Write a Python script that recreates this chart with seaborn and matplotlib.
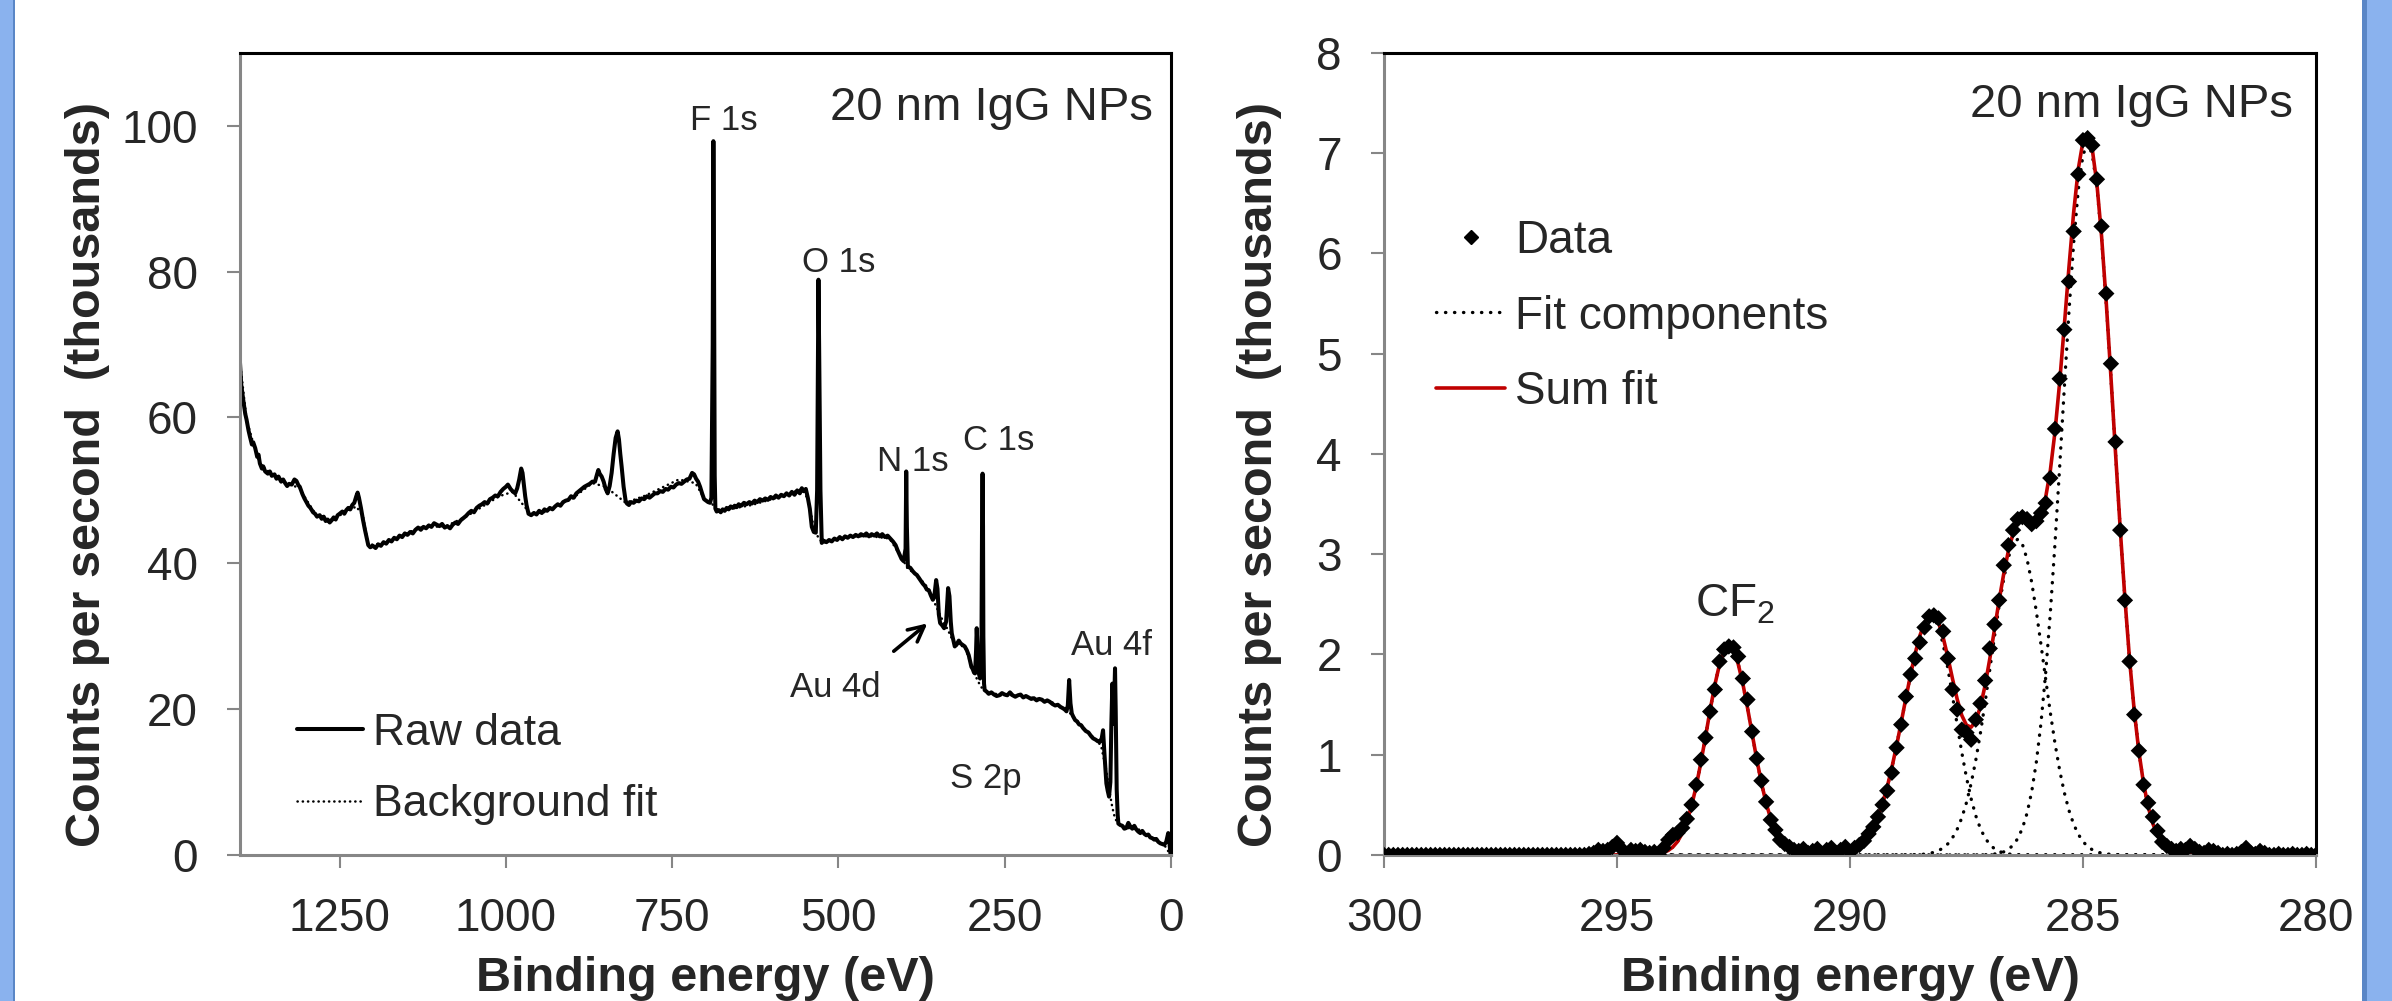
import numpy as np
import pandas as pd
import matplotlib
matplotlib.use("Agg")
import matplotlib.pyplot as plt
from matplotlib.lines import Line2D
from matplotlib.patches import Rectangle
import seaborn as sns

sns.set_style("ticks")
plt.rcParams["font.family"] = ["Liberation Sans", "DejaVu Sans"]
plt.rcParams["mathtext.default"] = "regular"

# ---- survey spectrum (left): (binding energy eV, counts/s in thousands)
survey = [
    (1400, 67.7), (1398, 64.5), (1395, 62.4), (1392, 60.5), (1390, 59.7), (1387, 58.2),
    (1385, 57.4), (1382, 56.3), (1380, 56.6), (1377, 55.8), (1374, 54.6), (1372, 54.9),
    (1370, 53.7), (1367, 53.0), (1365, 53.3), (1362, 52.6), (1358, 52.3), (1355, 52.6),
    (1352, 52.0), (1348, 52.2), (1345, 51.6), (1342, 51.9), (1338, 51.2), (1335, 51.5),
    (1332, 51.0), (1329, 50.6), (1326, 50.9), (1322, 50.8), (1318, 51.5), (1315, 51.3),
    (1312, 50.7), (1310, 50.5), (1306, 49.5), (1303, 48.9), (1300, 48.4), (1297, 47.9),
    (1294, 47.6), (1290, 47.0), (1287, 46.8), (1284, 46.4), (1280, 46.6), (1277, 46.1),
    (1274, 46.4), (1271, 45.8), (1268, 46.0), (1265, 45.6), (1262, 45.9), (1259, 46.3),
    (1256, 46.0), (1253, 46.6), (1250, 46.8), (1246, 47.1), (1243, 46.8), (1240, 47.3),
    (1237, 47.6), (1234, 47.4), (1231, 48.0), (1228, 48.3), (1225, 49.2), (1223, 49.7),
    (1221, 49.0), (1218, 47.6), (1215, 46.0), (1212, 44.6), (1209, 43.3), (1207, 42.5),
    (1204, 42.2), (1200, 42.4), (1196, 42.1), (1192, 42.6), (1188, 42.4), (1184, 42.9),
    (1180, 42.7), (1176, 43.2), (1172, 43.0), (1168, 43.5), (1164, 43.3), (1160, 43.8),
    (1156, 43.6), (1152, 44.1), (1148, 43.9), (1144, 44.3), (1140, 44.1), (1136, 44.6),
    (1132, 44.9), (1128, 44.6), (1124, 45.0), (1120, 44.8), (1116, 45.2), (1112, 45.0),
    (1108, 45.5), (1104, 45.3), (1100, 45.1), (1096, 45.4), (1092, 44.9), (1088, 45.1),
    (1084, 44.8), (1080, 45.3), (1076, 45.6), (1072, 45.4), (1068, 45.9), (1064, 46.2),
    (1060, 46.5), (1056, 46.9), (1052, 47.2), (1048, 47.0), (1044, 47.6), (1040, 47.9),
    (1036, 48.1), (1032, 48.4), (1028, 48.2), (1024, 48.8), (1020, 49.0), (1016, 49.3),
    (1012, 49.2), (1008, 49.8), (1004, 50.2), (1000, 50.5), (997, 50.8), (993, 50.2),
    (989, 49.8), (986, 49.6), (983, 50.3), (980, 51.5), (977, 53.0), (975, 52.4),
    (973, 50.8), (971, 49.2), (969, 48.0), (966, 46.8), (962, 46.6), (958, 46.9),
    (954, 46.7), (950, 47.2), (946, 46.9), (942, 47.4), (938, 47.2), (934, 47.6),
    (930, 47.4), (926, 47.8), (922, 48.1), (918, 47.9), (914, 48.4), (910, 48.6),
    (906, 48.7), (902, 49.2), (898, 49.0), (894, 49.6), (890, 49.9), (886, 50.2),
    (882, 50.5), (878, 50.7), (874, 50.9), (870, 51.2), (866, 51.2), (863, 52.2),
    (861, 52.8), (859, 52.3), (856, 51.9), (853, 51.2), (850, 50.2), (847, 49.6),
    (844, 50.6), (841, 52.4), (838, 55.0), (835, 57.2), (832, 58.1), (830, 57.0),
    (828, 55.0), (826, 53.3), (823, 50.5), (820, 48.6), (818, 48.2), (815, 48.0),
    (812, 48.4), (808, 48.3), (804, 48.6), (800, 48.5), (796, 48.9), (792, 48.8),
    (788, 49.2), (784, 49.0), (780, 49.3), (776, 49.6), (772, 49.6), (768, 49.9),
    (764, 49.8), (760, 50.2), (756, 50.1), (752, 50.5), (748, 50.4), (744, 50.8),
    (740, 51.0), (736, 50.9), (732, 51.2), (728, 51.5), (724, 51.6), (720, 52.4),
    (717, 52.2), (714, 51.6), (711, 51.2), (708, 50.5), (705, 49.6), (702, 48.8),
    (699, 48.6), (696, 48.4), (693, 48.3), (691, 49.0), (689, 70.0), (688, 97.9),
    (687, 80.0), (686, 52.0), (685, 47.5), (683, 47.1), (680, 47.3), (677, 47.0),
    (674, 47.4), (671, 47.2), (668, 47.6), (665, 47.4), (662, 47.8), (659, 47.6),
    (656, 47.9), (653, 47.7), (650, 48.1), (646, 47.9), (642, 48.3), (638, 48.1),
    (634, 48.4), (630, 48.2), (626, 48.6), (622, 48.4), (618, 48.8), (614, 48.6),
    (610, 48.9), (606, 48.7), (602, 49.1), (598, 48.9), (594, 49.3), (590, 49.0),
    (586, 49.4), (582, 49.2), (578, 49.6), (574, 49.3), (570, 49.8), (566, 49.4),
    (562, 50.0), (558, 49.6), (555, 50.3), (552, 49.9), (549, 50.2), (546, 49.0),
    (543, 47.5), (540, 45.0), (537, 44.3), (534, 44.2), (532, 50.0), (530, 78.9),
    (529, 70.0), (527, 50.0), (525, 42.8), (522, 43.1), (518, 42.9), (514, 43.2),
    (510, 43.0), (506, 43.4), (502, 43.2), (498, 43.6), (494, 43.3), (490, 43.7),
    (486, 43.5), (482, 43.8), (478, 43.6), (474, 43.9), (470, 43.7), (466, 44.0),
    (462, 43.8), (458, 44.1), (454, 43.7), (450, 44.0), (446, 43.8), (442, 44.1),
    (438, 43.7), (434, 44.0), (430, 43.6), (426, 43.8), (422, 43.4), (418, 43.0),
    (414, 42.5), (411, 41.8), (408, 41.2), (405, 40.6), (402, 40.3), (399, 42.0),
    (398, 52.6), (397, 45.0), (395.5, 39.5), (392, 39.4), (388, 38.9), (385, 38.6),
    (382, 38.4), (379, 38.0), (376, 37.6), (373, 37.2), (370, 36.9), (367, 36.4),
    (364, 36.3), (361, 35.6), (358, 35.0), (356, 35.3), (353, 37.7), (351, 36.5),
    (349, 33.0), (347, 31.8), (344, 31.5), (341, 31.1), (338, 32.0), (335, 36.6),
    (333, 35.5), (331, 32.0), (329.5, 30.4), (327, 29.4), (325, 28.6), (322, 28.9),
    (319, 29.4), (316, 29.0), (313, 28.8), (310, 28.6), (307, 28.1), (304, 27.4),
    (302, 26.6), (300, 25.8), (298, 25.5), (296, 25.0), (294.5, 24.9), (293, 28.0),
    (292, 31.1), (291, 29.0), (290, 25.5), (289, 25.0), (287, 24.2), (285, 26.0),
    (284, 45.0), (283.2, 52.3), (282.5, 45.0), (282, 30.0), (281, 23.5), (280, 22.6),
    (277, 22.4), (274, 22.1), (270, 22.3), (266, 22.0), (262, 21.8), (258, 21.9),
    (254, 22.2), (250, 22.0), (246, 21.9), (242, 22.3), (238, 21.9), (234, 21.7),
    (230, 21.9), (226, 22.0), (222, 21.6), (218, 21.8), (214, 21.6), (210, 21.4),
    (206, 21.5), (202, 21.2), (198, 21.4), (194, 21.3), (190, 21.0), (186, 21.2),
    (182, 21.0), (178, 20.7), (174, 20.5), (170, 20.6), (166, 20.3), (162, 20.1),
    (159, 19.9), (157, 19.7), (155, 20.5), (153, 24.0), (151, 20.8), (149, 19.4),
    (147, 19.0), (144, 18.5), (141, 18.3), (138, 17.9), (135, 17.8), (132, 17.4),
    (128, 17.0), (124, 16.8), (120, 16.3), (117, 16.0), (113, 15.8), (110, 15.6),
    (107, 15.5), (104, 16.0), (102, 17.1), (100, 14.0), (97, 9.8), (95, 8.8),
    (93, 8.0), (91, 10.0), (89.5, 18.0), (88, 23.5), (86.5, 18.0), (85, 22.0),
    (84, 25.6), (83, 20.0), (81.5, 9.0), (80, 5.5), (79, 4.3), (76, 4.1),
    (73, 4.0), (70, 3.6), (67, 3.7), (64, 4.4), (61, 3.9), (58, 3.6),
    (55, 4.0), (52, 3.5), (49, 3.2), (46, 3.0), (43, 3.3), (40, 2.9),
    (37, 2.7), (34, 2.8), (31, 2.4), (28, 2.3), (25, 2.1), (22, 2.2),
    (19, 1.8), (16, 1.6), (13, 1.5), (10, 1.4), (7, 1.8), (4, 3.0),
    (2, 1.5), (0.5, 0.0),
]

background = [
    (1400, 67.7), (1390, 59.7), (1380, 56.5), (1370, 53.7), (1350, 52.0), (1330, 51.0),
    (1310, 50.3), (1300, 48.7), (1285, 46.6), (1265, 45.9), (1245, 46.8), (1225, 47.8),
    (1215, 46.5), (1207, 42.5), (1180, 42.8), (1130, 44.9), (1090, 45.1), (1060, 46.4),
    (1010, 49.2), (990, 49.8), (965, 47.0), (945, 46.9), (900, 48.9), (870, 51.0),
    (850, 50.5), (820, 48.3), (790, 49.3), (740, 51.5), (715, 51.0), (700, 48.6),
    (690, 48.2), (683, 47.1), (630, 48.0), (585, 49.2), (555, 50.2), (545, 48.7),
    (537, 44.8), (530, 43.5), (524, 42.8), (485, 43.7), (450, 43.7), (423, 43.4),
    (410, 41.5), (400, 40.0), (396, 39.3), (382, 38.4), (365, 36.6), (355, 34.5),
    (345, 32.5), (335, 30.8), (325, 28.8), (310, 28.6), (300, 26.0), (295, 24.8),
    (290, 23.8), (285, 23.0), (280, 22.6), (257, 21.9), (230, 21.9), (205, 21.5),
    (180, 21.0), (160, 20.1), (150, 19.3), (140, 18.3), (130, 17.3), (115, 16.0),
    (105, 15.0), (97, 11.5), (92, 8.5), (88, 6.5), (84, 5.0), (79, 4.3),
    (67, 3.7), (50, 3.6), (30, 2.4), (10, 1.4), (0.5, 0.0),
]

survey_labels = [("F 1s", 673, 99.5), ("O 1s", 499, 80.0), ("N 1s", 388, 52.6),
                 ("C 1s", 259, 55.6), ("Au 4d", 504, 21.7), ("Au 4f", 90, 27.4),
                 ("S 2p", 278, 9.15)]

# ---- C 1s high resolution (right), energy grid 280.0 .. 300.0 in 0.1 eV steps
hr_start, hr_stop, hr_step = 280.0, 300.0, 0.1
hr_counts = [
    0.00, 0.00, 0.01, 0.00, 0.00, 0.01, 0.00, 0.00, 0.01, 0.00,   # 280
    0.00, 0.02, 0.04, 0.01, 0.02, 0.07, 0.03, 0.01, 0.00, 0.01,   # 281
    0.00, 0.02, 0.04, 0.05, 0.02, 0.03, 0.06, 0.09, 0.05, 0.06,   # 282
    0.04, 0.06, 0.09, 0.13, 0.24, 0.38, 0.52, 0.70, 1.04, 1.40,   # 283
    1.93, 2.54, 3.24, 4.12, 4.90, 5.60, 6.27, 6.74, 7.08, 7.15,   # 284
    7.13, 6.79, 6.22, 5.72, 5.24, 4.75, 4.25, 3.76, 3.51, 3.41,   # 285
    3.33, 3.30, 3.35, 3.37, 3.35, 3.24, 3.09, 2.89, 2.54, 2.30,   # 286
    2.06, 1.74, 1.51, 1.35, 1.15, 1.22, 1.25, 1.45, 1.65, 1.96,   # 287
    2.23, 2.36, 2.39, 2.38, 2.27, 2.12, 1.96, 1.80, 1.58, 1.30,   # 288
    1.07, 0.82, 0.64, 0.50, 0.38, 0.28, 0.21, 0.14, 0.10, 0.07,   # 289
    0.03, 0.08, 0.05, 0.02, 0.07, 0.05, 0.01, 0.06, 0.04, 0.02,   # 290
    0.06, 0.04, 0.05, 0.08, 0.11, 0.15, 0.25, 0.35, 0.53, 0.74,   # 291
    0.96, 1.23, 1.55, 1.76, 1.98, 2.07, 2.08, 2.05, 1.93, 1.65,   # 292
    1.43, 1.17, 0.95, 0.70, 0.50, 0.36, 0.27, 0.22, 0.20, 0.15,   # 293
    0.07, 0.00, 0.03, 0.02, 0.03, 0.05, 0.04, 0.05, 0.00, 0.06,   # 294
    0.12, 0.08, 0.05, 0.04, 0.05, 0.02, 0.01, 0.00, 0.00, 0.00,   # 295
    0.00, 0.00, 0.00, 0.00, 0.00, 0.00, 0.00, 0.00, 0.00, 0.00,   # 296
    0.00, 0.00, 0.00, 0.00, 0.00, 0.00, 0.00, 0.00, 0.00, 0.00,   # 297
    0.00, 0.00, 0.00, 0.00, 0.00, 0.00, 0.00, 0.00, 0.00, 0.00,   # 298
    0.00, 0.00, 0.00, 0.00, 0.00, 0.00, 0.00, 0.00, 0.00, 0.00,   # 299
    0.00,                                                         # 300
]

# fit components, each starting at the given energy (0.1 eV steps)
c1_start = 282.5
c1_vals = [0.001, 0.002, 0.003, 0.006, 0.012,
           0.022, 0.040, 0.071, 0.120, 0.197, 0.312, 0.480, 0.715, 1.032, 1.441,
           1.952, 2.560, 3.250, 3.999, 4.766, 5.501, 6.151, 6.661, 6.988, 7.100,
           6.982, 6.637, 6.100, 5.421, 4.658, 3.870, 3.109, 2.417, 1.816, 1.319,
           0.928, 0.631, 0.416, 0.265, 0.163, 0.097, 0.056, 0.031, 0.017, 0.009,
           0.005, 0.002, 0.001, 0.000]
c3_start = 284.1
c3_vals = [0.001, 0.002, 0.003, 0.006, 0.010, 0.018, 0.031, 0.052, 0.084,
           0.134, 0.206, 0.307, 0.444, 0.622, 0.845, 1.113, 1.419, 1.753, 2.096,
           2.427, 2.720, 2.951, 3.100, 3.150, 3.104, 2.968, 2.755, 2.484, 2.173,
           1.845, 1.521, 1.217, 0.945, 0.713, 0.522, 0.370, 0.255, 0.171, 0.111,
           0.070, 0.043, 0.026, 0.015, 0.008, 0.005, 0.002, 0.001]
c4_start = 286.3
c4_vals = [0.001, 0.003, 0.005, 0.010, 0.019, 0.036, 0.062,
           0.105, 0.169, 0.262, 0.391, 0.561, 0.773, 1.022, 1.300, 1.587, 1.863,
           2.100, 2.275, 2.368, 2.372, 2.307, 2.182, 2.008, 1.796, 1.564, 1.324,
           1.090, 0.873, 0.680, 0.515, 0.379, 0.272, 0.189, 0.128, 0.085, 0.054,
           0.034, 0.021, 0.012, 0.007, 0.004, 0.002, 0.001]
cf2_start = 290.7
cf2_vals = [0.001, 0.002, 0.004,
            0.008, 0.016, 0.030, 0.053, 0.091, 0.151, 0.238, 0.359, 0.519, 0.718,
            0.952, 1.209, 1.470, 1.711, 1.907, 2.035, 2.080, 2.033, 1.900, 1.697,
            1.448, 1.181, 0.921, 0.686, 0.489, 0.333, 0.216, 0.134, 0.080, 0.045,
            0.025, 0.013, 0.006, 0.003, 0.001]

n_pts = int(round((hr_stop - hr_start) / hr_step)) + 1
grid = np.round(hr_start + hr_step * np.arange(n_pts), 1)


def on_grid(start, vals):
    idx = np.round(start + hr_step * np.arange(len(vals)), 1)
    return pd.Series(vals, index=idx).reindex(grid, fill_value=0.0).to_numpy()


components = [on_grid(c1_start, c1_vals), on_grid(c3_start, c3_vals),
              on_grid(c4_start, c4_vals), on_grid(cf2_start, cf2_vals)]
sum_fit = np.sum(components, axis=0)

RED = "#C00000"
GREY = "#868686"
DOTS = (0, (0.1, 2.6))

fig = plt.figure(figsize=(23.92, 10.01), dpi=100)
ax1 = fig.add_axes([0.1003, 0.1459, 0.3892, 0.8012])
ax2 = fig.add_axes([0.5786, 0.1459, 0.3896, 0.8012])

# left panel
sv = np.array(survey)
bg = np.array(background)
sns.lineplot(x=bg[:, 0], y=bg[:, 1], ax=ax1, color="black", lw=1.8,
             linestyle=(0, (0.1, 2.0)), dash_capstyle="round", estimator=None, sort=False)
sns.lineplot(x=sv[:, 0], y=sv[:, 1], ax=ax1, color="black", lw=2.9,
             solid_joinstyle="round", estimator=None, sort=False)

for txt, xx, yy in survey_labels:
    ax1.text(xx, yy, txt, fontsize=25, ha="center", va="baseline")
ax1.annotate("", xy=(363, 32.0), xytext=(420, 27.7),
             arrowprops=dict(arrowstyle="->", lw=2.6, color="black", mutation_scale=28))
ax1.text(27, 100.8, "20 nm IgG NPs", fontsize=34, ha="right", va="baseline")

ax1.set_xlim(1400, 0)
ax1.set_ylim(0, 110)
ax1.set_xticks([1250, 1000, 750, 500, 250, 0])
ax1.set_yticks([0, 20, 40, 60, 80, 100])

h1 = [Line2D([], [], color="black", lw=2.9, label="Raw data"),
      Line2D([], [], color="black", lw=1.8, linestyle=(0, (0.1, 2.0)),
             dash_capstyle="round", label="Background fit")]
ax1.legend(handles=h1, loc="upper left", bbox_to_anchor=(0.061, 0.1775), frameon=False,
           fontsize=32, handlelength=1.5, handletextpad=0.22, labelspacing=0.69,
           borderpad=0, borderaxespad=0)

# right panel
for comp in components:
    sns.lineplot(x=grid, y=comp, ax=ax2, color="black", lw=2.4, linestyle=DOTS,
                 dash_capstyle="round", estimator=None)
sns.lineplot(x=grid, y=sum_fit, ax=ax2, color=RED, lw=2.6, estimator=None)
sns.scatterplot(x=grid, y=hr_counts, ax=ax2, marker="D", s=70, color="black",
                edgecolor="none", zorder=3)

ax2.text(292.47, 2.38, "CF$_2$", fontsize=33, ha="center", va="baseline")
ax2.text(280.49, 7.36, "20 nm IgG NPs", fontsize=34, ha="right", va="baseline")

ax2.set_xlim(300, 280)
ax2.set_ylim(0, 8)
ax2.set_xticks([300, 295, 290, 285, 280])
ax2.set_yticks(range(0, 9))

h2 = [Line2D([], [], color="black", ls="none", marker="D", ms=7, label="Data"),
      Line2D([], [], color="black", lw=2.4, linestyle=DOTS, dash_capstyle="round",
             label="Fit components"),
      Line2D([], [], color=RED, lw=2.6, label="Sum fit")]
ax2.legend(handles=h2, loc="upper left", bbox_to_anchor=(0.056, 0.7925), frameon=False,
           fontsize=33, handlelength=1.5, handletextpad=0.22, labelspacing=0.68,
           borderpad=0, borderaxespad=0, numpoints=1)

for ax, ylx in ((ax1, -0.1396), (ax2, -0.1094)):
    ax.set_facecolor("white")
    for s in ("top", "right"):
        ax.spines[s].set_color("black")
        ax.spines[s].set_linewidth(2.2)
    for s in ("left", "bottom"):
        ax.spines[s].set_color(GREY)
        ax.spines[s].set_linewidth(2.2)
    ax.tick_params(direction="out", length=9.5, width=1.5, color=GREY,
                   labelsize=33, pad=21, top=False, right=False)
    ax.set_xlabel("Binding energy (eV)", fontsize=35, fontweight="bold")
    ax.set_ylabel("Counts per second  (thousands)", fontsize=35, fontweight="bold")
    ax.xaxis.set_label_coords(0.5, -0.1255)
    ax.yaxis.set_label_coords(ylx, 0.475)

# blue side bars
W, H = 2392.0, 1001.0
light, dark = "#8AB2EE", "#5A86C6"
fig.add_artist(Rectangle((0, 0), 12.7 / W, 1, transform=fig.transFigure, color=light, lw=0))
fig.add_artist(Rectangle((12.7 / W, 0), 2.3 / W, 1, transform=fig.transFigure, color=dark, lw=0))
fig.add_artist(Rectangle((2361.7 / W, 0), 5.0 / W, 1, transform=fig.transFigure, color=dark, lw=0))
fig.add_artist(Rectangle((2366.7 / W, 0), 25.3 / W, 1, transform=fig.transFigure, color=light, lw=0))

fig.savefig("out.png", dpi=100, facecolor="white")
